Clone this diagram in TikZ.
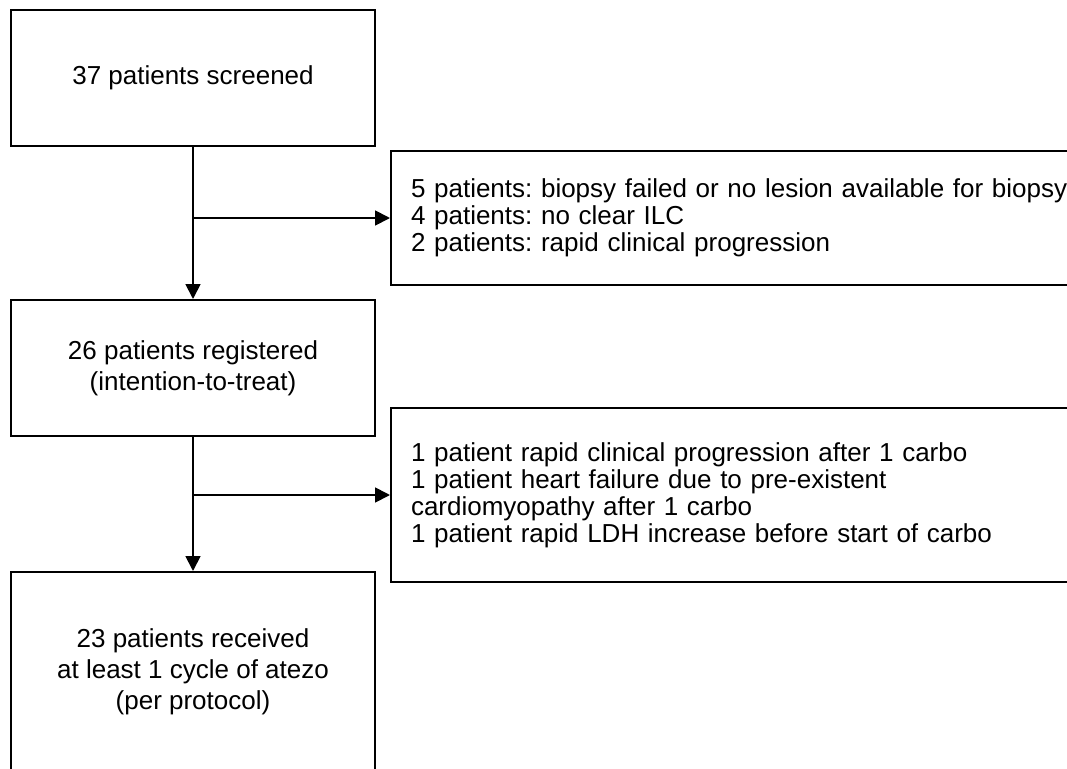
\documentclass[tikz,border=0pt]{standalone}
\usepackage{fontspec}
\setmainfont{Liberation Sans}
\usetikzlibrary{arrows.meta}

\tikzset{
  stagebox/.style={draw, line width=2pt, minimum width=364pt, align=center,
    font=\fontsize{26}{31}\selectfont\frenchspacing},
  exclbox/.style={draw, line width=2pt, anchor=north west, text width=670pt,
    inner xsep=20pt, align=left, font=\fontsize{26}{27}\selectfont\frenchspacing},
  flow/.style={line width=1.8pt, -{Triangle[length=15pt,width=15pt]}}
}

\begin{document}
\begin{tikzpicture}[x=1pt, y=-1pt]

\useasboundingbox (0,0) rectangle (1067,768);
\clip (0,0) rectangle (1067,768);

% ======================
% Main stages
% ======================
\node[stagebox, minimum height=136pt] (screened) at (193,78)
{37 patients screened};

\node[stagebox, minimum height=136pt] (registered) at (193,368)
{26 patients registered\\(intention-to-treat)};

\node[stagebox, minimum height=200pt] (perprotocol) at (193,672)
{23 patients received\\at least 1 cycle of atezo\\(per protocol)};

% ======================
% Exclusions
% ======================
\node[exclbox, minimum height=134pt] (excluded) at (390,150)
{5 patients: biopsy failed or no lesion available for biopsy\\
4 patients: no clear ILC\\
2 patients: rapid clinical progression};

\node[exclbox, minimum height=174pt] (dropout) at (390,407)
{1 patient rapid clinical progression after 1 carbo\\
1 patient heart failure due to pre-existent\\
cardiomyopathy after 1 carbo\\
1 patient rapid LDH increase before start of carbo};

% ======================
% Flow
% ======================
\draw[flow] (screened.south) -- (registered.north);
\draw[flow] (screened.south |- excluded.west) -- (excluded.west);

\draw[flow] (registered.south) -- (perprotocol.north);
\draw[flow] (registered.south |- dropout.west) -- (dropout.west);

\end{tikzpicture}
\end{document}
